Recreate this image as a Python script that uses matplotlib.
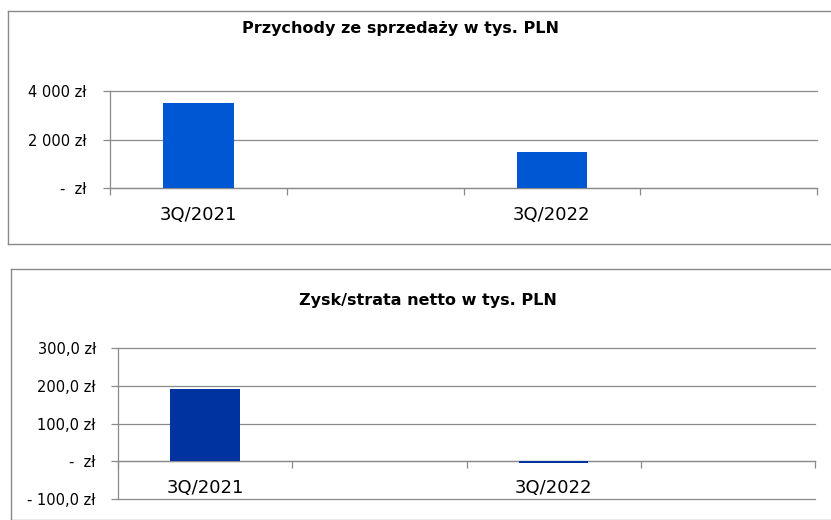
import matplotlib
matplotlib.use('Agg')
import matplotlib.pyplot as plt
from matplotlib.lines import Line2D

W, H = 831, 520

# dane
kategorie = ['3Q/2021', '', '3Q/2022', '']
przychody = [3500, 0, 1500, 0]
zysk = [192, 0, -5, 0]

przychody_ticks = [0, 2000, 4000]
przychody_labels = ['-  zł', '2 000 zł', '4 000 zł']
zysk_ticks = [-100, 0, 100, 200, 300]
zysk_labels = ['- 100,0 zł', '-  zł', '100,0 zł', '200,0 zł', '300,0 zł']

szary = '#8a8a8a'


def px_axes(fig, left, top, right, bottom):
    return fig.add_axes([left / W, 1 - bottom / H, (right - left) / W, (bottom - top) / H])


def frame(fig, left, top, right, bottom):
    # ramka bez prawej krawedzi (obcieta w oryginale)
    fig.lines.append(Line2D([left / W, right / W], [1 - top / H, 1 - top / H],
                            transform=fig.transFigure, color=szary, linewidth=1.0))
    fig.lines.append(Line2D([left / W, left / W], [1 - top / H, 1 - bottom / H],
                            transform=fig.transFigure, color=szary, linewidth=1.0))
    fig.lines.append(Line2D([left / W, right / W], [1 - bottom / H, 1 - bottom / H],
                            transform=fig.transFigure, color=szary, linewidth=1.0))


def setup(ax, values, color, yticks, ylabels, ypad, zero_axis=False):
    x = range(len(values))
    if zero_axis:
        ax.spines['bottom'].set_position(('data', 0))
    ax.bar(x, values, width=0.4, color=color, zorder=3)
    ax.set_xlim(-0.5, len(values) - 0.5)
    ax.set_yticks(yticks)
    ax.set_yticklabels(ylabels)
    ax.set_ylim(yticks[0], yticks[-1])
    ax.grid(axis='y', color=szary, linewidth=0.9, zorder=1)
    ax.set_axisbelow(True)
    for s in ['top', 'right']:
        ax.spines[s].set_visible(False)
    for s in ['left', 'bottom']:
        ax.spines[s].set_color(szary)
        ax.spines[s].set_linewidth(0.9)
    ax.set_xticks([i - 0.5 for i in range(len(values) + 1)])
    ax.set_xticklabels([])
    ax.set_xticks(list(x), minor=True)
    ax.set_xticklabels(kategorie, minor=True, fontsize=13)
    ax.tick_params(axis='x', which='major', length=5, color=szary, width=0.9, direction='out')
    ax.tick_params(axis='x', which='minor', length=0, pad=13)
    ax.tick_params(axis='y', length=5, color=szary, width=0.9, pad=ypad, labelsize=10.5)
    for gl in ax.get_ygridlines():
        gl.set_clip_on(False)
    ax.patch.set_alpha(0)


fig = plt.figure(figsize=(W / 100, H / 100), dpi=100)

# wykres 1 - przychody
frame(fig, 8, 11, W, 243.5)
ax1 = px_axes(fig, 110, 90.7, 817, 188.3)
setup(ax1, przychody, '#0057d4', przychody_ticks, przychody_labels, 12)
fig.text(401 / W, 1 - 28 / H, 'Przychody ze sprzedaży w tys. PLN',
         ha='center', va='center', fontsize=11.5, fontweight='bold')

# wykres 2 - zysk/strata
frame(fig, 11, 269, W, H)
ax2 = px_axes(fig, 118, 348.3, 815, 498.8)
setup(ax2, zysk, '#0033a0', zysk_ticks, zysk_labels, 11, zero_axis=True)
fig.text(428 / W, 1 - 301 / H, 'Zysk/strata netto w tys. PLN',
         ha='center', va='center', fontsize=11.5, fontweight='bold')

fig.savefig('out.png', dpi=100)
